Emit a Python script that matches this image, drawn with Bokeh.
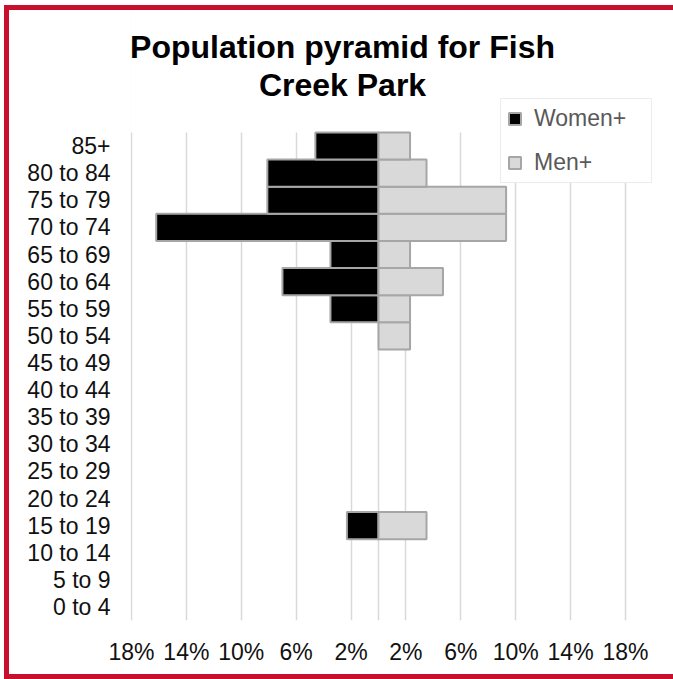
from bokeh.plotting import figure
from bokeh.models import Range1d, FixedTicker, Label, BoxAnnotation, ColumnDataSource
from bokeh.embed import file_html
from bokeh.resources import INLINE

age_groups = ["0 to 4", "5 to 9", "10 to 14", "15 to 19", "20 to 24", "25 to 29",
              "30 to 34", "35 to 39", "40 to 44", "45 to 49", "50 to 54", "55 to 59",
              "60 to 64", "65 to 69", "70 to 74", "75 to 79", "80 to 84", "85+"]
women_pct = [0, 0, 0, 2.3, 0, 0, 0, 0, 0, 0, 0, 3.5, 7.0, 3.5, 16.2, 8.1, 8.1, 4.6]
men_pct = [0, 0, 0, 3.5, 0, 0, 0, 0, 0, 0, 2.3, 2.3, 4.7, 2.3, 9.3, 9.3, 3.5, 2.3]

tick_values = [-18, -14, -10, -6, -2, 2, 6, 10, 14, 18]
tick_labels = ["18%", "14%", "10%", "6%", "2%", "2%", "6%", "10%", "14%", "18%"]
grid_values = [-18, -14, -10, -6, -2, 0, 2, 6, 10, 14, 18]
title_text = "Population pyramid for Fish\nCreek Park"

FONT = "Liberation Sans"
RED = "#c8102e"

pos = list(range(len(age_groups)))
w_src = ColumnDataSource(dict(y=[i for i, v in zip(pos, women_pct) if v > 0],
                              left=[-v for v in women_pct if v > 0]))
m_src = ColumnDataSource(dict(y=[i for i, v in zip(pos, men_pct) if v > 0],
                              right=[v for v in men_pct if v > 0]))

n = len(age_groups)
p = figure(width=664, height=664, output_backend="svg", toolbar_location=None,
           title=None,
           x_range=Range1d(-18.073, 21.5),
           y_range=Range1d(-0.5, n - 0.5 + 4.5),
           min_border_left=121, min_border_right=5, min_border_top=0, min_border_bottom=64)
p.styles = {"border-left": f"5px solid {RED}", "border-top": f"5px solid {RED}",
            "border-bottom": f"5px solid {RED}", "border-right": "none",
            "box-sizing": "content-box",
            "margin-left": "4px", "margin-top": "5px"}

# mask grid lines above the top category
p.add_layout(BoxAnnotation(left=-25, right=25, bottom=n - 0.5, top=n + 10,
                           fill_color="white", fill_alpha=1.0, line_alpha=0,
                           level="underlay"))

p.hbar(y="y", left="left", right=0, height=1.0, source=w_src,
       fill_color="#000000", line_color="#a6a6a6", line_width=2, legend_label="Women+")
p.hbar(y="y", left=0, right="right", height=1.0, source=m_src,
       fill_color="#d9d9d9", line_color="#a6a6a6", line_width=2, legend_label="Men+")

# x axis
p.xaxis.ticker = FixedTicker(ticks=tick_values)
p.xaxis.major_label_overrides = {v: l for v, l in zip(tick_values, tick_labels)}
p.xaxis.axis_line_color = None
p.xaxis.major_tick_line_color = None
p.xaxis.major_tick_out = 0
p.xaxis.minor_tick_line_color = None
p.xaxis.major_label_text_font = FONT
p.xaxis.major_label_text_font_size = "23px"
p.xaxis.major_label_text_color = "#111111"
p.xaxis.major_label_standoff = 18

# y axis
p.yaxis.ticker = FixedTicker(ticks=pos)
p.yaxis.major_label_overrides = {i: a for i, a in zip(pos, age_groups)}
p.yaxis.axis_line_color = None
p.yaxis.major_tick_line_color = None
p.yaxis.major_tick_out = 0
p.yaxis.minor_tick_line_color = None
p.yaxis.major_label_text_font = FONT
p.yaxis.major_label_text_font_size = "23px"
p.yaxis.major_label_text_color = "#111111"
p.yaxis.major_label_standoff = 20

p.xgrid.ticker = FixedTicker(ticks=grid_values)
p.xgrid.grid_line_color = "#d9d9d9"
p.xgrid.grid_line_width = 1.5
p.ygrid.grid_line_color = None
p.outline_line_color = None

# title
p.add_layout(Label(x=-2.62, y=n - 0.5 + 2.45, text=title_text, text_align="center",
                   text_baseline="middle", text_font=FONT, text_font_size="32px",
                   text_font_style="bold", text_color="#000000", text_line_height=1.05))

# legend
lg = p.legend[0]
lg.location = (370, 437)
lg.label_text_font = FONT
lg.label_text_font_size = "23px"
lg.label_text_color = "#595959"
lg.glyph_width = 15
lg.glyph_height = 15
lg.label_standoff = 12
lg.label_width = 111
lg.padding = 6
lg.spacing = 17
lg.border_line_color = "#d9d9d9"
lg.border_line_width = 1.5
lg.background_fill_alpha = 1.0

open("out.html", "w").write(file_html(p, INLINE))
